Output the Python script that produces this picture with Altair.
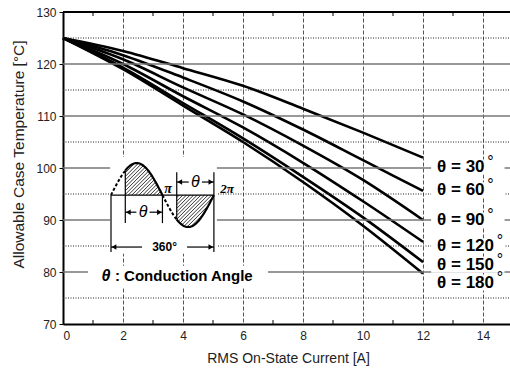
import altair as alt
import pandas as pd
import numpy as np

# ---------------- data ----------------
current_a = [0, 2, 4, 6, 8, 10, 12]
temp_30 = [125, 122.5, 119.2, 115.8, 111.4, 106.8, 102.0]
temp_60 = [125, 121.7, 117.4, 112.8, 107.4, 101.5, 95.6]
temp_90 = [125, 120.9, 115.5, 110.3, 104.3, 97.7, 90.0]
temp_120 = [125, 120.0, 113.8, 107.8, 101.0, 93.6, 85.8]
temp_150 = [125, 119.3, 112.5, 105.7, 98.3, 90.5, 81.9]
temp_180 = [125, 119.0, 112.0, 105.0, 97.3, 88.9, 79.7]
angle_names = ["30", "60", "90", "120", "150", "180"]
label_temp = [100.2, 95.8, 90.0, 85.0, 81.3, 77.9]
label_current = 12.47

x_tick_values = [0, 2, 4, 6, 8, 10, 12, 14]
x_minor_values = [1, 3, 5, 7, 9, 11, 13]
y_tick_values = [70, 80, 90, 100, 110, 120, 130]
y_major_grid = [80, 90, 100, 110, 120]
y_minor_grid = [75, 85, 95, 105, 115, 125]

# ---------------- layout ----------------
X_MAX = 14.9
Y_MIN, Y_MAX = 70, 130
W, H = 447, 312
PX_X = W / X_MAX
PX_Y = H / (Y_MAX - Y_MIN)
FONT = "Liberation Sans"

xs = alt.Scale(domain=[0, X_MAX], nice=False, zero=False)
ys = alt.Scale(domain=[Y_MIN, Y_MAX], nice=False, zero=False)


def XQ(f):
    return alt.X(f, type="quantitative", scale=xs)


def YQ(f):
    return alt.Y(f, type="quantitative", scale=ys)


def segments(rows, color="black", width=1.0, dash=None):
    df = pd.DataFrame(rows, columns=["xa", "ya", "xb", "yb"])
    kw = dict(color=color, strokeWidth=width)
    if dash:
        kw["strokeDash"] = dash
    return alt.Chart(df).mark_rule(**kw).encode(
        x=XQ("xa"), y=YQ("ya"), x2="xb", y2="yb")


def rects(rows):
    df = pd.DataFrame(rows, columns=["xa", "ya", "xb", "yb"])
    return alt.Chart(df).mark_rect(color="white").encode(
        x=XQ("xa"), y=YQ("ya"), x2="xb", y2="yb")


def texts(rows, **kw):
    df = pd.DataFrame(rows, columns=["x", "y", "t"])
    base = dict(font=FONT, color="black", baseline="middle")
    base.update(kw)
    return alt.Chart(df).mark_text(**base).encode(
        x=XQ("x"), y=YQ("y"), text="t:N")


# ---------------- grids & frame ----------------
grid_minor = alt.Chart(pd.DataFrame({"v": y_minor_grid})).mark_rule(
    color="#222", strokeWidth=1, strokeDash=[1, 1.5]).encode(
    y=YQ("v"), x=alt.value(0), x2=alt.value(W))
grid_major = alt.Chart(pd.DataFrame({"v": y_major_grid})).mark_rule(
    color="#777", strokeWidth=1.6).encode(
    y=YQ("v"), x=alt.value(0), x2=alt.value(W))
top_frame = alt.Chart(pd.DataFrame({"v": [Y_MAX]})).mark_rule(
    color="black", strokeWidth=2).encode(
    y=YQ("v"), x=alt.value(0), x2=alt.value(W))
minor_bottom = alt.Chart(pd.DataFrame({"v": x_minor_values})).mark_rule(
    color="black", strokeWidth=1).encode(
    x=XQ("v"), y=alt.value(H), y2=alt.value(H - 4))
minor_top = alt.Chart(pd.DataFrame({"v": x_minor_values})).mark_rule(
    color="black", strokeWidth=1).encode(
    x=XQ("v"), y=alt.value(0), y2=alt.value(4))

# ---------------- curves (carry the axes) ----------------
series = [temp_30, temp_60, temp_90, temp_120, temp_150, temp_180]
rows = []
for name, temps in zip(angle_names, series):
    for c, t in zip(current_a, temps):
        rows.append({"current": c, "temp": t, "angle": name})
curve_df = pd.DataFrame(rows)

curves = alt.Chart(curve_df).mark_line(
    color="black", strokeWidth=2.6, interpolate="monotone").encode(
    x=alt.X("current:Q", scale=xs,
            axis=alt.Axis(values=x_tick_values, title="RMS On-State Current [A]",
                          grid=True, gridDash=[4, 2], gridColor="#555", gridWidth=1,
                          ticks=False, domainColor="black", domainWidth=2,
                          labelFont=FONT, labelFontSize=12, labelColor="#222",
                          labelPadding=6, titleFont=FONT, titleFontSize=14,
                          titleFontWeight="normal", titleColor="#222",
                          titleX=225, titleY=34, titleBaseline="middle")),
    y=alt.Y("temp:Q", scale=ys,
            axis=alt.Axis(values=y_tick_values, title="Allowable Case Temperature [°C]",
                          grid=False, ticks=True, tickSize=4, tickColor="black",
                          domainColor="black", domainWidth=2,
                          labelFont=FONT, labelFontSize=12, labelColor="#222",
                          labelPadding=3, titleFont=FONT, titleFontSize=15.5,
                          titleFontWeight="normal", titleColor="#222",
                          titleX=-45, titleY=142, titleAngle=270,
                          titleAlign="center", titleBaseline="middle")),
    detail="angle:N")

# ---------------- inset: conduction angle sketch ----------------
x0, period = 1.6, 3.43          # start and length of one cycle (A units)
yb, amp = 94.8, 6.15            # baseline and amplitude (°C units)
alpha = 50.0                    # drawn firing phase (degrees)


def px(ph):
    return x0 + period * ph / 360.0


def py(ph):
    return yb + amp * np.sin(np.radians(ph))


xa, xpi, xc, x2pi = px(alpha), px(180), px(180 + alpha), px(360)
y_dim_low = 89.4      # bottom of θ dimension lines
y_dim_360 = 83.85     # bottom of 360° dimension lines
y_dim_top = 99.2      # top of upper θ dimension lines
y_arrow_low = 91.5
y_arrow_up = 97.3
y_arrow_360 = 84.8

inset_bg = rects([
    (1.57, 83.5, 5.13, 102.1),
    (0.83, 77.1, 6.83, 81.2),
])

# hatching
k = PX_X / PX_Y
db = 3.6 / PX_Y
hatch = []
for lo, hi, upper in [(xa, xpi, True), (xc, x2pi, False)]:
    xx = np.linspace(lo, hi, 600)
    curve_y = yb + amp * np.sin(np.radians((xx - x0) / period * 360))
    if upper:
        bmin, bmax = yb - k * hi, yb + amp - k * lo
    else:
        bmin, bmax = yb - amp - k * hi, yb - k * lo
    b = bmin + db / 2
    while b < bmax:
        yy = b + k * xx
        if upper:
            inside = (yy >= yb) & (yy <= curve_y)
        else:
            inside = (yy <= yb) & (yy >= curve_y)
        if inside.any():
            sx = xx[inside]
            hatch.append((sx.min(), b + k * sx.min(), sx.max(), b + k * sx.max()))
        b += db
hatch_layer = segments(hatch, width=0.8)

# sine wave
wave_rows = []
for seg, (a, b_, dashed) in enumerate([(0, alpha, True), (alpha, 180, False),
                                        (180, 180 + alpha, True), (180 + alpha, 360, False)]):
    for ph in np.linspace(a, b_, 40):
        wave_rows.append({"x": px(ph), "y": py(ph), "seg": seg, "dashed": dashed})
wave_df = pd.DataFrame(wave_rows)
wave_solid = alt.Chart(wave_df[~wave_df.dashed]).mark_line(
    color="black", strokeWidth=2.2).encode(x=XQ("x"), y=YQ("y"), detail="seg:N")
wave_dash = alt.Chart(wave_df[wave_df.dashed]).mark_line(
    color="black", strokeWidth=2, strokeDash=[3, 2]).encode(
    x=XQ("x"), y=YQ("y"), detail="seg:N")

# dimension lines, baseline and arrows
gap_low, gap_up, gap_360 = 0.22, 0.22, 0.75
c_low, c_up, c_360 = (xa + xpi) / 2 - 0.03, (xc + x2pi) / 2, (x0 + x2pi) / 2 + 0.07
dims = segments([
    (x0, yb, x2pi, yb),
    (x0, yb, x0, y_dim_360),
    (x2pi, y_dim_top, x2pi, y_dim_360),
    (xa, float(py(alpha)), xa, y_dim_low),
    (xpi, yb, xpi, y_dim_low),
    (xc, float(py(180 + alpha)), xc, y_dim_top),
    (xa, y_arrow_low, c_low - gap_low, y_arrow_low),
    (c_low + gap_low, y_arrow_low, xpi, y_arrow_low),
    (xc, y_arrow_up, c_up - gap_up, y_arrow_up),
    (c_up + gap_up, y_arrow_up, x2pi, y_arrow_up),
    (x0, y_arrow_360, c_360 - gap_360, y_arrow_360),
    (c_360 + gap_360, y_arrow_360, x2pi, y_arrow_360),
], width=1.2)

off = 0.1
heads_df = pd.DataFrame([
    (xa + off, y_arrow_low, "triangle-left"), (xpi - off, y_arrow_low, "triangle-right"),
    (xc + off, y_arrow_up, "triangle-left"), (x2pi - off, y_arrow_up, "triangle-right"),
    (x0 + off, y_arrow_360, "triangle-left"), (x2pi - off, y_arrow_360, "triangle-right"),
], columns=["x", "y", "shape"])
heads = alt.Chart(heads_df).mark_point(filled=True, color="black", size=30, opacity=1,
                                       strokeWidth=0).encode(
    x=XQ("x"), y=YQ("y"),
    shape=alt.Shape("shape:N", scale=None))

inset_theta = texts([(c_low, y_arrow_low, "θ"), (c_up, y_arrow_up, "θ")],
                    fontSize=16, fontStyle="italic", align="center")
inset_pi = texts([(3.5, 96.05, "π")], fontSize=14, fontStyle="italic",
                 fontWeight="bold", font="Liberation Serif", align="center")
inset_2pi = texts([(5.47, 95.96, "2π")], fontSize=13, fontWeight="bold",
                  fontStyle="italic", font="Liberation Serif", align="center")
inset_360 = texts([(c_360, y_arrow_360, "360°")], fontSize=12, fontWeight="bold",
                  align="center")
cond_theta = texts([(1.43, 79.2, "θ")], fontSize=16, fontStyle="italic",
                   fontWeight="bold", align="center")
cond_text = texts([(1.73, 79.2, ": Conduction Angle")], fontSize=15,
                  fontWeight="bold", align="left")

# ---------------- right-side labels ----------------
lab_bg = rects([(label_current - 0.2, t - 1.45, label_current + 2.25, t + 1.45)
                for t in label_temp])
lab_rows, deg_rows = [], []
for name, t in zip(angle_names, label_temp):
    lab_rows.append((label_current, t, f"θ = {name}"))
    w_px = 29.7 + 9.45 * len(name) + 1.5
    deg_rows.append((label_current + w_px / PX_X, t, "°"))
labels = texts(lab_rows, fontSize=17, fontWeight="bold", align="left")
degrees = texts(deg_rows, fontSize=16, align="left", dy=-5)

chart = alt.layer(
    curves, grid_minor, grid_major, top_frame, minor_bottom, minor_top,
    inset_bg, lab_bg,
    hatch_layer, wave_solid, wave_dash, dims, heads,
    inset_theta, inset_pi, inset_2pi, inset_360, cond_theta, cond_text,
    labels, degrees,
).properties(
    width=W, height=H,
    padding={"left": 63, "top": 12, "right": 0, "bottom": 51},
    autosize=alt.AutoSizeParams(type="none"),
    background="white",
).configure_view(stroke=None)

chart.save("out.html", embed_options={"renderer": "svg", "actions": False})
